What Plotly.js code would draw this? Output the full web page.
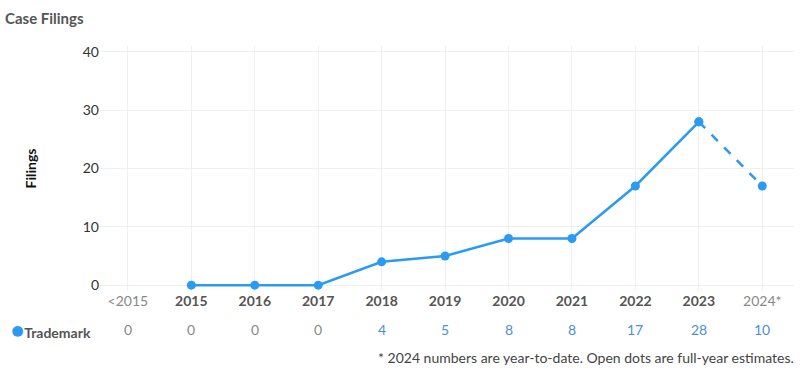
<!DOCTYPE html>
<html><head><meta charset="utf-8">
<script src="https://cdn.plot.ly/plotly-3.0.1.min.js"></script>
<style>html,body{margin:0;padding:0;background:#fff}#chart{width:800px;height:371px}</style>
</head><body><div id="chart"></div>
<script>
const categories = ["<2015","2015","2016","2017","2018","2019","2020","2021","2022","2023","2024*"];
const filings = [null,0,0,0,4,5,8,8,17,28,null];
const estimateCats = ["2023","2024*"];
const estimateVals = [28,17];
const tableCounts = [0,0,0,0,4,5,8,8,17,28,10];
const tickColors = ["#888","#555","#555","#555","#555","#555","#555","#555","#555","#555","#888"];
const seriesName = "Trademark";
const blue = "#2b9af3";

const traces = [
  {x: categories, y: filings, type: "scatter", mode: "lines+markers",
   line: {color: blue, width: 2.5}, marker: {color: blue, size: 9}, cliponaxis: false, hoverinfo: "skip"},
  {x: estimateCats, y: estimateVals, type: "scatter", mode: "lines+markers",
   line: {color: blue, width: 2.5, dash: "dash"}, marker: {color: blue, size: 9}, cliponaxis: false, hoverinfo: "skip"}
];

const h = 371, mt = 46, mb = 80, ml = 100, mr = 6;
const pw = 800 - ml - mr, ph = h - mt - mb;
const toPaperY = y => (h - mb - y) / ph;
const toPaperX = x => (x - ml) / pw;

const annotations = categories.map((c, i) => ({x: i, xref: "x", y: toPaperY(329), yref: "paper", yanchor: "middle",
  text: String(tableCounts[i]), showarrow: false,
  font: {family: "Lato", size: 14, color: tableCounts[i] === 0 ? "#888" : "#4a8fd8"}}));
annotations.push({xref: "paper", yref: "paper", x: toPaperX(9), xanchor: "left", y: toPaperY(329), yanchor: "middle",
  text: `<span style="color:${blue};font-size:22px">●</span><b>${seriesName}</b>`, showarrow: false,
  font: {family: "Lato", size: 14, color: "#555"}});
annotations.push({xref: "paper", yref: "paper", x: toPaperX(796), xanchor: "right", y: toPaperY(357), yanchor: "middle",
  text: "* 2024 numbers are year-to-date. Open dots are full-year estimates.", showarrow: false,
  font: {family: "Lato", size: 14, color: "#444"}});
annotations.push({xref: "paper", yref: "paper", x: toPaperX(3), xanchor: "left", y: toPaperY(18), yanchor: "middle",
  text: "<b>Case Filings</b>", showarrow: false,
  font: {family: "Lato", size: 15, color: "#555"}});

const layout = {
  width: 800, height: 371,
  margin: {l: ml, r: mr, t: mt, b: mb},
  paper_bgcolor: "#fff", plot_bgcolor: "#fff",
  showlegend: false,
  font: {family: "Lato", size: 14, color: "#333"},
  xaxis: {type: "category", range: [-0.44, 10.5], showgrid: true, gridcolor: "#f0f0f0",
    zeroline: false, showline: false, ticks: "", fixedrange: true,
    tickvals: categories,
    ticktext: categories.map((c, i) => `<span style="color:${tickColors[i]}">` + (tickColors[i] === "#555" ? `<b>${c}</b>` : c) + `</span>`),
    tickfont: {family: "Lato", size: 14}},
  yaxis: {range: [-1, 41], tickvals: [0,10,20,30,40], showgrid: true, gridcolor: "#f0f0f0",
    zeroline: false, showline: false, ticks: "", tickfont: {family: "Lato", size: 14, color: "#333"},
    title: {text: "<b>Filings</b>", font: {family: "Lato", size: 14, color: "#111"}, standoff: 42}},
  annotations: annotations
};

Plotly.newPlot("chart", traces, layout, {staticPlot: true, displayModeBar: false});
</script></body></html>
